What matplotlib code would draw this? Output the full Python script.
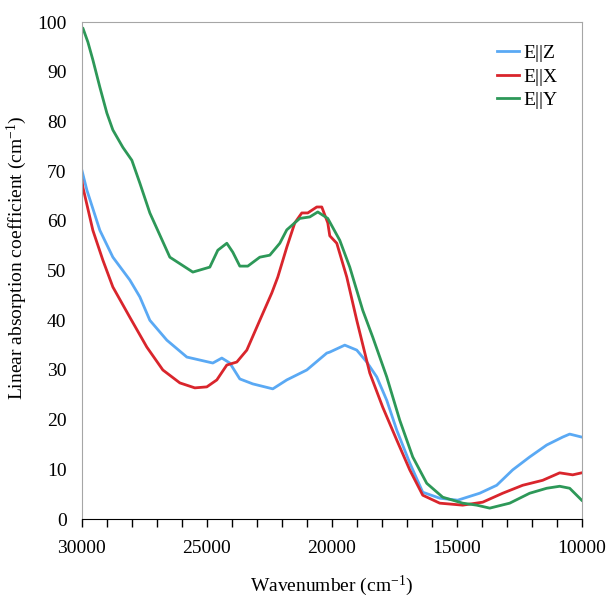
import matplotlib
matplotlib.use('Agg')
from matplotlib import pyplot as plt
from matplotlib.ticker import MultipleLocator

plt.rcParams['font.family'] = ['Liberation Serif', 'DejaVu Serif']
plt.rcParams['mathtext.fontset'] = 'custom'
plt.rcParams['mathtext.rm'] = 'Liberation Serif'
plt.rcParams['mathtext.default'] = 'regular'

# E||Z
wn_z = [30000, 29800, 29280, 28760, 28080, 27680, 27280, 26600, 25800, 24760, 24400, 24080,
        23680, 23160, 22360, 21800, 21000, 20200, 20080, 19480, 19000, 18600, 18200, 17800,
        17400, 16880, 16360, 15680, 14960, 14080, 13400, 12760, 12080, 11400, 10760, 10480, 10000]
ez = [70.2, 66.2, 58.1, 52.7, 48.1, 44.7, 40.0, 36.0, 32.6, 31.4, 32.4, 31.4,
      28.2, 27.2, 26.2, 28.0, 30.0, 33.4, 33.6, 35.0, 34.0, 31.6, 28.6, 23.9,
      17.9, 11.3, 5.4, 4.2, 3.8, 5.2, 6.8, 9.9, 12.5, 14.9, 16.5, 17.1, 16.5]

# E||X
wn_x = [30000, 29960, 29560, 29160, 28760, 28080, 27400, 26760, 26080, 25480, 25000, 24600,
        24200, 23800, 23400, 22880, 22400, 22160, 21800, 21480, 21200, 20960, 20600, 20400,
        20160, 20080, 19800, 19400, 19000, 18480, 17960, 17400, 16880, 16360, 15680, 14760,
        13960, 13160, 12360, 11560, 10880, 10360, 10000]
ex = [68.2, 66.8, 58.1, 52.1, 46.7, 40.6, 34.6, 30.0, 27.4, 26.4, 26.6, 28.0,
      31.0, 31.6, 34.0, 40.0, 45.5, 48.7, 54.7, 59.6, 61.6, 61.6, 62.8, 62.8,
      59.6, 57.0, 55.5, 48.7, 40.0, 29.4, 22.5, 15.9, 9.9, 4.8, 3.2, 2.8,
      3.4, 5.2, 6.8, 7.8, 9.3, 8.9, 9.3]

# E||Y
wn_y = [30000, 29960, 29760, 29560, 29280, 29000, 28760, 28360, 28000, 27680, 27280, 26480,
        25560, 24880, 24560, 24200, 23960, 23680, 23360, 22880, 22480, 22080, 21800, 21280,
        20880, 20560, 20160, 19680, 19280, 18760, 18360, 17800, 17280, 16760, 16200, 15560,
        14760, 14200, 13680, 12880, 12080, 11400, 10880, 10480, 10000]
ey = [98.8, 98.8, 96.0, 92.4, 86.9, 81.7, 78.3, 74.8, 72.2, 67.6, 61.6, 52.7,
      49.7, 50.7, 54.1, 55.5, 53.7, 50.9, 50.9, 52.7, 53.1, 55.5, 58.2, 60.5,
      60.8, 61.8, 60.5, 56.1, 50.7, 42.0, 36.6, 28.6, 19.9, 12.5, 7.2, 4.4,
      3.2, 2.8, 2.2, 3.2, 5.2, 6.2, 6.6, 6.2, 3.8]

fig = plt.figure(figsize=(6.11, 5.98), dpi=100)
ax = fig.add_axes([0.134, 0.132, 0.818, 0.831])

ax.plot(wn_z, ez, color='#5aa9f4', lw=2, label='E||Z')
ax.plot(wn_x, ex, color='#d9252c', lw=2, label='E||X')
ax.plot(wn_y, ey, color='#2d9858', lw=2, label='E||Y')

ax.set_xlim(30000, 10000)
ax.set_ylim(0, 100)
ax.xaxis.set_major_locator(MultipleLocator(5000))
ax.xaxis.set_minor_locator(MultipleLocator(1000))
ax.yaxis.set_major_locator(MultipleLocator(10))

for s in ['top', 'left', 'right']:
    ax.spines[s].set_color('#a6a6a6')
ax.spines['bottom'].set_color('black')

ax.tick_params(axis='x', which='both', direction='out', length=6, width=1, labelsize=14, pad=9)
ax.tick_params(axis='y', length=0, labelsize=14, pad=11)

ax.set_xlabel('Wavenumber (cm$^{-1}$)', fontsize=14, labelpad=12)
ax.set_ylabel('Linear absorption coefficient (cm$^{-1}$)', fontsize=14)
ax.yaxis.set_label_coords(-0.106, 0.525)

ax.legend(loc='upper left', bbox_to_anchor=(0.83, 0.955), frameon=False, fontsize=14,
          handlelength=1.15, handletextpad=0.2, labelspacing=0.3,
          borderpad=0, borderaxespad=0)

fig.savefig('out.png', dpi=100)
